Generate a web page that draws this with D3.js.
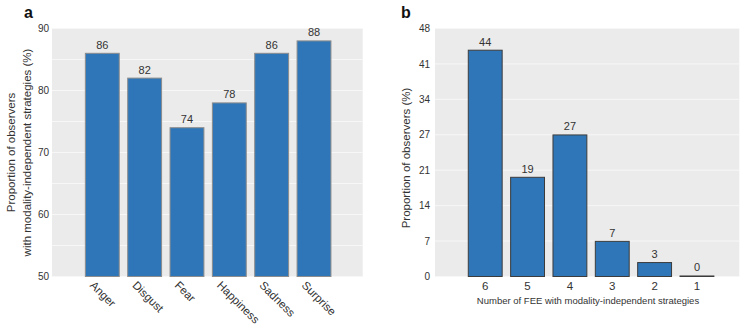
<!DOCTYPE html>
<html>
<head>
<meta charset="utf-8">
<script src="https://cdn.jsdelivr.net/npm/d3@7"></script>
<style>
  body { margin: 0; background: #fff; }
  text { font-family: Arial, "Liberation Sans", sans-serif; fill: #333; }
</style>
</head>
<body>
<script>
// panel a
const emotions = ['Anger', 'Disgust', 'Fear', 'Happiness', 'Sadness', 'Surprise'];
const emotionValues = [86, 82, 74, 78, 86, 88];
const yTicksA = [50, 60, 70, 80, 90];
const gridA = [50, 55, 60, 65, 70, 75, 80, 85, 90];

// panel b
const feeCounts = ['6', '5', '4', '3', '2', '1'];
const feeValues = [43.8, 19.2, 27.4, 6.8, 2.7, 0.1];
const yTicksB = [0, 48 / 7, 96 / 7, 144 / 7, 192 / 7, 240 / 7, 288 / 7, 48];

window.onload = function () {

  const W = 749, H = 325;
  const BAR = '#2e76b7';

  const svg = d3.select('body')
                .append('svg')
                .attr('width', W)
                .attr('height', H);

  function panel(cfg) {
    const g = svg.append('g');

    const x = d3.scaleLinear()
                .domain(cfg.xDomain)
                .range([cfg.left, cfg.right]);
    const y = d3.scaleLinear()
                .domain(cfg.yDomain)
                .range([cfg.bottom, cfg.top]);

    g.append('rect')
      .attr('x', cfg.left)
      .attr('y', cfg.top)
      .attr('width', cfg.right - cfg.left)
      .attr('height', cfg.bottom - cfg.top)
      .attr('fill', '#ebebeb');

    g.selectAll('.grid')
      .data(cfg.grid)
      .join('line')
      .attr('x1', cfg.left)
      .attr('x2', cfg.right)
      .attr('y1', d => y(d))
      .attr('y2', d => y(d))
      .attr('stroke', '#f7f7f7')
      .attr('stroke-width', 1);

    // y axis, no domain line or tick marks
    const yAxis = d3.axisLeft(y)
                    .tickValues(cfg.yTicks)
                    .tickFormat(d => Math.round(d))
                    .tickSize(0)
                    .tickPadding(cfg.tickPad);
    const ya = g.append('g')
                .attr('transform', `translate(${cfg.left},0)`)
                .call(yAxis);
    ya.select('.domain').remove();
    ya.selectAll('text')
      .attr('font-size', 10)
      .attr('font-family', 'Arial, "Liberation Sans", sans-serif')
      .attr('fill', '#333');

    const w = 0.8;
    g.selectAll('.bar')
      .data(cfg.values)
      .join('rect')
      .attr('x', (d, i) => x(i - w / 2))
      .attr('width', x(w) - x(0))
      .attr('y', d => y(d))
      .attr('height', d => y(cfg.yDomain[0]) - y(d))
      .attr('fill', BAR)
      .attr('stroke', cfg.edge)
      .attr('stroke-width', 1);

    g.selectAll('.val')
      .data(cfg.values)
      .join('text')
      .attr('x', (d, i) => x(i))
      .attr('y', d => y(d) - 4.5)
      .attr('text-anchor', 'middle')
      .attr('font-size', 11)
      .text(d => Math.round(d));

    g.append('text')
      .attr('x', cfg.tagX)
      .attr('y', 17.5)
      .attr('font-size', 16)
      .attr('font-weight', 'bold')
      .style('fill', '#111')
      .text(cfg.tag);

    return { g, x, y };
  }

  // ---- panel a ----
  const A = panel({
    left: 52, right: 362.7, top: 28.5, bottom: 276.5,
    xDomain: [-1.188, 6.15],
    yDomain: [50, 90],
    yTicks: yTicksA,
    grid: gridA,
    values: emotionValues,
    edge: '#8d8d8d',
    tickPad: 3,
    tag: 'a', tagX: 24
  });

  A.g.selectAll('.xlab')
    .data(emotions)
    .join('text')
    .attr('transform', (d, i) => `translate(${A.x(i) - 13},286) rotate(45)`)
    .attr('font-size', 11.5)
    .text(d => d);

  A.g.append('text')
    .attr('transform', 'translate(15,152.5) rotate(-90)')
    .attr('text-anchor', 'middle')
    .attr('font-size', 11.5)
    .text('Proportion of observers');
  A.g.append('text')
    .attr('transform', 'translate(30.5,152.5) rotate(-90)')
    .attr('text-anchor', 'middle')
    .attr('font-size', 11.5)
    .text('with modality-independent strategies (%)');

  // ---- panel b ----
  const B = panel({
    left: 435, right: 739.3, top: 28.5, bottom: 276.5,
    xDomain: [-1.186, 6.0],
    yDomain: [0, 48],
    yTicks: yTicksB,
    grid: yTicksB,
    values: feeValues,
    edge: '#3c3c3c',
    tickPad: 5,
    tag: 'b', tagX: 401
  });

  B.g.selectAll('.xlab')
    .data(feeCounts)
    .join('text')
    .attr('x', (d, i) => B.x(i))
    .attr('y', 289.5)
    .attr('text-anchor', 'middle')
    .attr('font-size', 11.5)
    .text(d => d);

  B.g.append('text')
    .attr('x', 588)
    .attr('y', 303.5)
    .attr('text-anchor', 'middle')
    .attr('font-size', 9.5)
    .text('Number of FEE with modality-independent strategies');

  B.g.append('text')
    .attr('transform', 'translate(410,158) rotate(-90)')
    .attr('text-anchor', 'middle')
    .attr('font-size', 11.5)
    .text('Proportion of observers (%)');
};
</script>
</body>
</html>
